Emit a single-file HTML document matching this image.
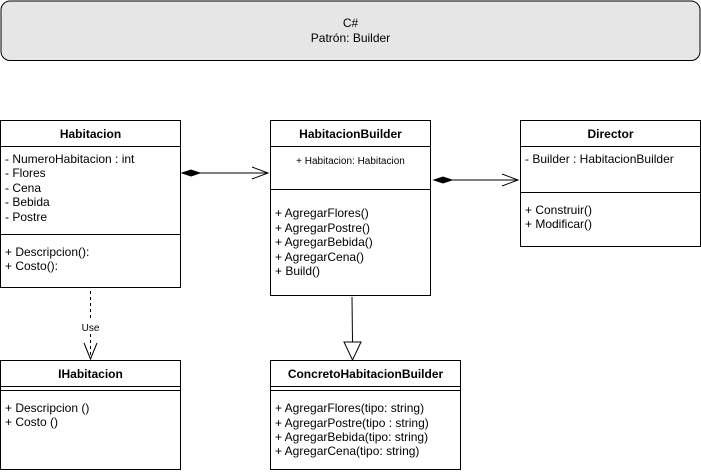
<!DOCTYPE html>
<html><head><meta charset="utf-8"><style>
html,body{margin:0;padding:0;background:#fff;}
svg{display:block;}
text{font-family:"Liberation Sans",Arial,sans-serif;font-size:12px;fill:#000;}
.b{font-weight:bold;font-size:12px;}
</style></head><body>
<svg width="701" height="474" viewBox="0 0 701 474" xmlns="http://www.w3.org/2000/svg">
<rect x="1" y="1" width="699" height="59.5" rx="9" fill="#e6e6e6" stroke="#000"/>
<text x="350.5" y="27" text-anchor="middle" style="font-size:12px">C#</text>
<text x="350.5" y="42" text-anchor="middle" style="font-size:12px">Patrón: Builder</text>

<g fill="#fff" stroke="#000">
<rect x="0.5" y="120.5" width="180" height="167"/>
<rect x="270.5" y="120.5" width="160" height="175"/>
<rect x="520.5" y="120.5" width="180" height="126"/>
<rect x="0.5" y="360.5" width="180" height="109"/>
<rect x="270.5" y="360.5" width="190" height="109"/>
</g>
<g stroke="#000">
<line x1="0" y1="146.5" x2="181" y2="146.5"/>
<line x1="0" y1="234.5" x2="181" y2="234.5"/>
<line x1="270" y1="146.5" x2="431" y2="146.5"/>
<line x1="270" y1="189.5" x2="431" y2="189.5"/>
<line x1="520" y1="146.5" x2="701" y2="146.5"/>
<line x1="520" y1="192.5" x2="701" y2="192.5"/>
<line x1="0" y1="386.5" x2="181" y2="386.5"/>
<line x1="0" y1="390.5" x2="181" y2="390.5"/>
<line x1="270" y1="386.5" x2="461" y2="386.5"/>
<line x1="270" y1="390.5" x2="461" y2="390.5"/>
</g>

<text class="b" x="90.5" y="138" text-anchor="middle">Habitacion</text>
<text x="5" y="163">- NumeroHabitacion : int</text>
<text x="5" y="177">- Flores</text>
<text x="5" y="192">- Cena</text>
<text x="5" y="206">- Bebida</text>
<text x="5" y="221">- Postre</text>
<text x="5" y="256">+ Descripcion():</text>
<text x="5" y="270">+ Costo():</text>

<text class="b" x="350.5" y="138" text-anchor="middle">HabitacionBuilder</text>
<text x="350.5" y="164" text-anchor="middle" style="font-size:10px">+ Habitacion: Habitacion</text>
<text x="275" y="217">+ AgregarFlores()</text>
<text x="275" y="232">+ AgregarPostre()</text>
<text x="275" y="246">+ AgregarBebida()</text>
<text x="275" y="261">+ AgregarCena()</text>
<text x="275" y="275">+ Build()</text>

<text class="b" x="610.5" y="138" text-anchor="middle">Director</text>
<text x="525" y="163">- Builder : HabitacionBuilder</text>
<text x="525" y="214">+ Construir()</text>
<text x="525" y="228">+ Modificar()</text>

<text class="b" x="90.5" y="378" text-anchor="middle">IHabitacion</text>
<text x="5" y="412">+ Descripcion ()</text>
<text x="5" y="426">+ Costo ()</text>

<text class="b" x="365.5" y="378" text-anchor="middle">ConcretoHabitacionBuilder</text>
<text x="275" y="412">+ AgregarFlores(tipo: string)</text>
<text x="275" y="427">+ AgregarPostre(tipo : string)</text>
<text x="275" y="441">+ AgregarBebida(tipo: string)</text>
<text x="275" y="455">+ AgregarCena(tipo: string)</text>

<polygon points="182,173 191,170 200,173 191,176" fill="#000" stroke="#000"/>
<line x1="200" y1="173" x2="268" y2="173" stroke="#000"/>
<polyline points="252,167 268,173 252,179" fill="none" stroke="#000"/>
<polygon points="434,180 443,177 452,180 443,183" fill="#000" stroke="#000"/>
<line x1="452" y1="180" x2="518" y2="180" stroke="#000"/>
<polyline points="502,174 518,180 502,186" fill="none" stroke="#000"/>
<line x1="90.5" y1="291" x2="90.5" y2="319" stroke="#000" stroke-dasharray="3,3"/>
<line x1="90.5" y1="334" x2="90.5" y2="358" stroke="#000" stroke-dasharray="3,3"/>
<polyline points="84,343 90.5,359 97,343" fill="none" stroke="#000"/>
<text x="90.5" y="331" text-anchor="middle" style="font-size:10px">Use</text>
<line x1="352" y1="297" x2="352.5" y2="342" stroke="#000"/>
<polygon points="344,342 361,342 352.5,360" fill="#fff" stroke="#000"/>
</svg>
</body></html>
